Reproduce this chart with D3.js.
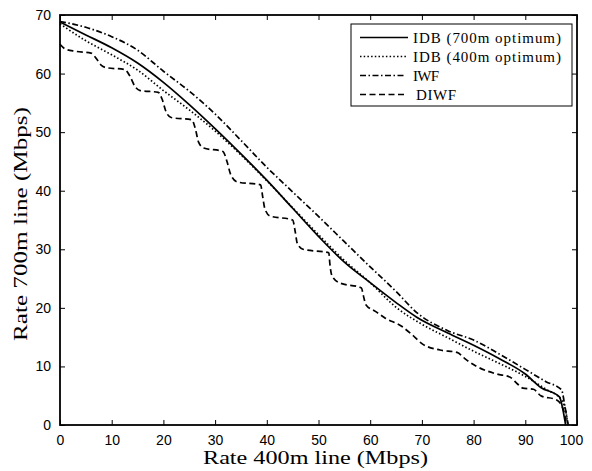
<!DOCTYPE html>
<html>
<head>
<meta charset="utf-8">
<script src="https://cdn.jsdelivr.net/npm/d3@7"></script>
<style>
  body { margin: 0; background: #fff; }
  svg { display: block; }
</style>
</head>
<body>
<div id="chart-area"></div>
<script>
/*
*    rate region chart
*/

var width = 592;
var height = 471;
var margin = {left: 60, right: 15, top: 15, bottom: 46};
var plotW = width - margin.left - margin.right;
var plotH = height - margin.top - margin.bottom;

var xTicks = [0, 10, 20, 30, 40, 50, 60, 70, 80, 90, 100];
var yTicks = [0, 10, 20, 30, 40, 50, 60, 70];

var legendLabels = ["IDB (700m optimum)", "IDB (400m optimum)", "IWF", "DIWF"];

// [rate 400m, rate 700m]
var idb700 = [[0,68.8],[5,66.6],[10,64.4],[15,61.8],[20,58.5],[25,54.7],[30,50.6],[35,46.3],
	[40,41.8],[45,37],[50,32.2],[55,27.8],[60,24.3],[65,20.9],[69,18.4],[75,15.7],[80,13.6],
	[85,11.3],[90,8.7],[93,6.4],[96.6,4.8],[97.3,2.5],[97.8,0]];

var idb400 = [[0,68.5],[5,65.6],[10,63.2],[15,60.6],[20,57.1],[25,53.8],[30,50.2],[35,46.1],
	[40,41.7],[45,37.1],[50,32.5],[55,28.1],[60,24.3],[65,20.1],[70,17.2],[75,14.9],[80,12.6],
	[85,10.5],[90,8.3],[94,6.1],[97,4.3],[98,1.5],[98.2,0]];

var iwf = [[0,68.9],[5,67.9],[10,66.3],[15,64],[20,60.4],[25,57],[30,53.1],[35,48.6],[40,44],
	[45,39.8],[50,35.6],[55,31.3],[60,27],[65,22.8],[69,19.2],[75,16.1],[80,14.5],[85,12.1],
	[90,9.5],[94,7.4],[97,6],[97.7,3],[98.3,0]];

var diwf = [[0,65],[1,64.2],[3,63.8],[6,63.5],[7,62.6],[8,61.4],[9,61],[12.5,60.7],[13.5,59.6],
	[14.5,57.8],[15.5,57.1],[19,56.8],[19.8,55.5],[20.5,53.5],[21.5,52.5],[25.5,52.1],[26.2,50.5],
	[26.8,48.3],[27.8,47.3],[31.5,46.7],[32.3,45],[33,42.8],[34.3,41.5],[38.8,41],[39.2,39],
	[39.6,37],[40.6,35.7],[45,35],[45.5,33],[45.9,31],[47,30],[52,29.4],[52.2,27.5],[52.6,25.5],
	[54,24.3],[58.3,23.4],[58.7,22],[59.2,20.5],[61,19.4],[63,18.2],[66,16.9],[68,15.5],[70,13.9],
	[73.5,12.8],[76.8,12.4],[78.5,11.2],[80.6,10],[84.5,8.7],[87,8.2],[88.5,7],[89.5,6.3],
	[91.6,6.1],[93,5],[96,4.3],[97.3,2.8],[98,0]];

var seriesList = [idb700, idb400, iwf, diwf];
var dashes = ["none", "1.5,2.2", "6,2.5,1.5,2.5", "6,3.5"];

var svg = d3.select("#chart-area").append("svg").attr("width", width).attr("height", height);
var graph = svg.append("g").attr("transform", "translate(" + margin.left + "," + margin.top + ")");

var x = d3.scaleLinear().domain([0, 100]).range([0, plotW]);
var y = d3.scaleLinear().domain([0, 70]).range([plotH, 0]);

var tickFont = "'Liberation Sans', Arial, sans-serif";
var serifFont = "'Liberation Serif', 'DejaVu Serif', serif";

// axes with inward ticks (box style)
var xAxis = d3.axisBottom(x).tickValues(xTicks).tickSize(-5).tickPadding(10).tickFormat(d3.format("d"));
var yAxis = d3.axisLeft(y).tickValues(yTicks).tickSize(-5).tickPadding(9).tickFormat(d3.format("d"));
var xTop = d3.axisTop(x).tickValues(xTicks).tickSize(-5).tickFormat("");
var yRight = d3.axisRight(y).tickValues(yTicks).tickSize(-5).tickFormat("");

var xg = graph.append("g").attr("transform", "translate(0," + plotH + ")").call(xAxis);
var yg = graph.append("g").call(yAxis);
graph.append("g").call(xTop);
graph.append("g").attr("transform", "translate(" + plotW + ",0)").call(yRight);

graph.selectAll(".domain").remove();
graph.selectAll(".tick line").attr("stroke", "#000").attr("stroke-width", 1);
graph.selectAll(".tick text").attr("font-family", tickFont).attr("font-size", "14px").attr("fill", "#000");
xg.selectAll(".tick text").filter(function(d) { return d == 100; }).attr("dx", "-6");

graph.append("rect").attr("width", plotW).attr("height", plotH)
	.attr("fill", "none").attr("stroke", "#000").attr("stroke-width", 1.8);

// curves
var line = d3.line().x(function(d) { return x(d[0]); }).y(function(d) { return y(d[1]); })
	.curve(d3.curveMonotoneX);

seriesList.forEach(function(s, i) {
	graph.append("path").datum(s).attr("d", line)
		.attr("fill", "none").attr("stroke", "#000").attr("stroke-width", 1.7)
		.attr("stroke-dasharray", dashes[i]);
});

// axis labels
svg.append("text").attr("x", margin.left + plotW / 2 - 3).attr("y", 464)
	.attr("text-anchor", "middle").attr("font-family", serifFont).attr("font-size", "19px")
	.attr("textLength", 225).attr("lengthAdjust", "spacingAndGlyphs")
	.text("Rate 400m line (Mbps)");

svg.append("text").attr("transform", "translate(27,224) rotate(-90)")
	.attr("text-anchor", "middle").attr("font-family", serifFont).attr("font-size", "19px")
	.attr("textLength", 234).attr("lengthAdjust", "spacingAndGlyphs")
	.text("Rate 700m line (Mbps)");

// legend
var legend = svg.append("g").attr("transform", "translate(351,24)");
legend.append("rect").attr("width", 221).attr("height", 82)
	.attr("fill", "#fff").attr("stroke", "#000").attr("stroke-width", 1);

var textLens = [148, 148, 26, 40];
var textX = [62, 62, 62, 65];
var lineEnd = [57, 57, 54, 53];

legendLabels.forEach(function(lbl, i) {
	var row = legend.append("g").attr("transform", "translate(0," + (13.5 + i * 19) + ")");
	row.append("line").attr("x1", 9).attr("x2", lineEnd[i]).attr("y1", 0).attr("y2", 0)
		.attr("stroke", "#000").attr("stroke-width", 1.7).attr("stroke-dasharray", dashes[i]);
	row.append("text").attr("x", textX[i]).attr("y", 5).attr("font-family", serifFont)
		.attr("font-size", "15px").attr("textLength", textLens[i]).attr("lengthAdjust", "spacing")
		.text(lbl);
});
</script>
</body>
</html>
